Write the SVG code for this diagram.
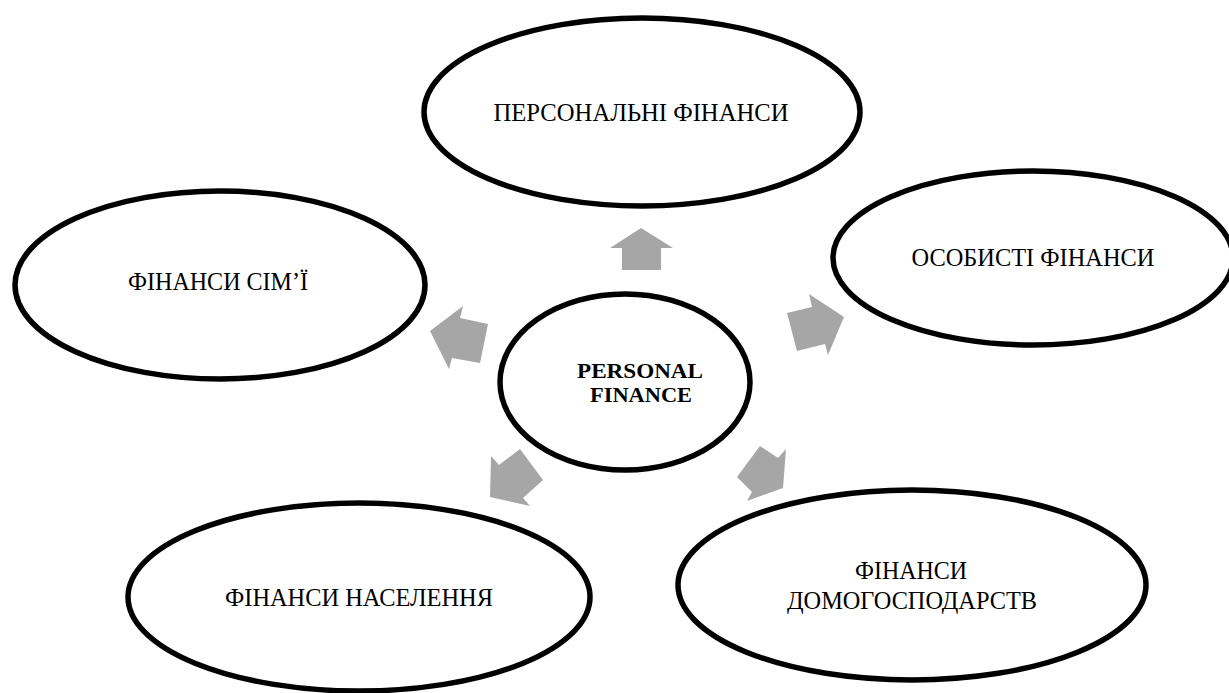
<svg xmlns="http://www.w3.org/2000/svg" width="1229" height="693" viewBox="0 0 1229 693">
<style>
.node ellipse{fill:#fff;stroke:#000;stroke-width:5.5}
.lbl{font-family:"Liberation Serif","DejaVu Serif",serif;font-size:26px;fill:#000;text-anchor:middle}
.bold{font-weight:bold;font-size:20px}
.arrow{fill:#a6a6a6;stroke:none}
</style>
<rect width="1229" height="693" fill="#fff"/>
<g id="connectors">
<polygon class="arrow" points="641,228 673,248 661,248 661,270 622,270 622,248 610,248"/>
<polygon class="arrow" points="430,331 463,306 460,318 488,324 480,363 452,358 449,369"/>
<polygon class="arrow" points="787,313 812,307 809,294 844,317 828,355 825,344 797,351"/>
<polygon class="arrow" points="520,449 543,480 523,498 530,506 490,497 491,456 499,465"/>
<polygon class="arrow" points="760,446 778,458 786,449 783,488 747,501 752,492 737,477"/>
</g>
<g id="node-top" class="node">
<ellipse cx="642" cy="112" rx="218" ry="94"/>
<text class="lbl" x="641" y="121" textLength="295" lengthAdjust="spacingAndGlyphs">ПЕРСОНАЛЬНІ ФІНАНСИ</text>
</g>
<g id="node-right" class="node">
<ellipse cx="1033" cy="258" rx="200" ry="87"/>
<text class="lbl" x="1033" y="266" textLength="243" lengthAdjust="spacingAndGlyphs">ОСОБИСТІ ФІНАНСИ</text>
</g>
<g id="node-left" class="node">
<ellipse cx="220" cy="285" rx="205" ry="94"/>
<text class="lbl" x="218" y="290" textLength="180" lengthAdjust="spacingAndGlyphs">ФІНАНСИ СІМ’Ї</text>
</g>
<g id="node-bottom-left" class="node">
<ellipse cx="359" cy="597" rx="231" ry="94"/>
<text class="lbl" x="359" y="606" textLength="268" lengthAdjust="spacingAndGlyphs">ФІНАНСИ НАСЕЛЕННЯ</text>
</g>
<g id="node-bottom-right" class="node">
<ellipse cx="912" cy="585" rx="234" ry="95"/>
<text class="lbl" x="911" y="579" textLength="112" lengthAdjust="spacingAndGlyphs">ФІНАНСИ</text>
<text class="lbl" x="912" y="609" textLength="250" lengthAdjust="spacingAndGlyphs">ДОМОГОСПОДАРСТВ</text>
</g>
<g id="node-center" class="node">
<ellipse cx="625" cy="382" rx="125" ry="88"/>
<text class="lbl bold" x="640" y="378" textLength="126" lengthAdjust="spacingAndGlyphs">PERSONAL</text>
<text class="lbl bold" x="641" y="402" textLength="102" lengthAdjust="spacingAndGlyphs">FINANCE</text>
</g>
</svg>
